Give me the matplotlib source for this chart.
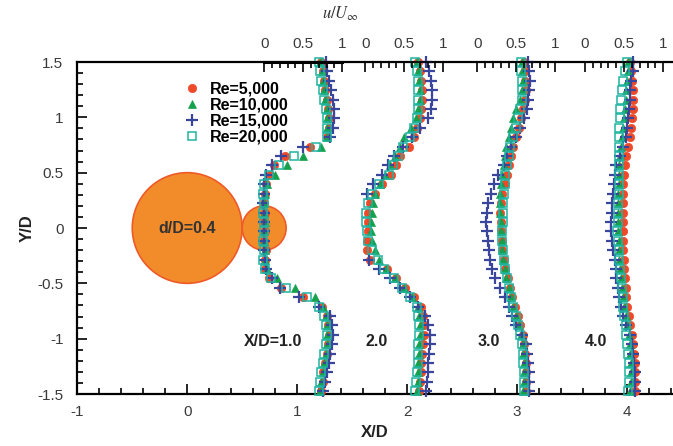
import numpy as np
import matplotlib.pyplot as plt
from matplotlib.patches import Circle

plt.rcParams['font.family'] = ['Liberation Sans', 'DejaVu Sans']
plt.rcParams['mathtext.fontset'] = 'stix'

# measurement heights Y/D (same for every traverse)
y_pos = [1.50, 1.415, 1.33, 1.245, 1.16, 1.075, 0.99, 0.905, 0.82, 0.735, 0.65, 0.565,
         0.48, 0.395, 0.31, 0.225, 0.14, 0.055, -0.03, -0.115, -0.20, -0.285, -0.37, -0.455,
         -0.54, -0.625, -0.71, -0.795, -0.88, -0.965, -1.05, -1.135, -1.22, -1.305, -1.39, -1.475]

stations = ['X/D=1.0', '2.0', '3.0', '4.0']
u_zero = [0.70, 1.62, 2.64, 3.62]   # where u/U=0 sits on the X/D axis for each traverse
u_scale = 0.71                      # X/D length of one unit of u/U

nan = np.nan

# u/U profiles, Re = 5,000
re5k_x1 = [0.73, 0.75, 0.77, 0.78, 0.80, 0.82, 0.83, 0.83, 0.81, 0.59, 0.27, 0.12, 0.07, 0.02, 0.01, 0.00, 0.01, 0.00,
           0.01, 0.00, 0.02, 0.01, 0.01, 0.06, 0.22, 0.50, 0.74, 0.80, 0.82, 0.83, 0.82, 0.80, 0.78, 0.76, 0.75, 0.73]
re5k_x2 = [0.68, 0.70, 0.72, 0.73, 0.73, 0.72, 0.70, 0.66, 0.62, 0.56, 0.45, 0.39, 0.33, 0.22, 0.13, 0.06, 0.04, 0.03,
           0.03, 0.02, 0.02, 0.06, 0.28, 0.40, 0.51, 0.63, 0.71, 0.74, 0.75, 0.75, 0.74, 0.73, 0.72, 0.71, 0.70, 0.69]
re5k_x3 = [0.60, 0.61, 0.61, 0.62, 0.61, 0.59, 0.56, 0.53, 0.49, 0.46, 0.43, 0.41, 0.38, 0.35, 0.32, 0.30, 0.29, 0.30,
           0.30, 0.31, 0.32, 0.34, 0.36, 0.39, 0.42, 0.45, 0.48, 0.52, 0.55, 0.58, 0.60, 0.61, 0.62, 0.62, 0.62, 0.62]
re5k_x4 = [0.58, 0.59, 0.60, 0.61, 0.61, 0.61, 0.60, 0.59, 0.57, 0.55, 0.53, 0.51, 0.50, 0.49, 0.48, 0.48, 0.48, 0.48,
           0.48, 0.49, 0.49, 0.50, 0.50, 0.51, 0.52, 0.53, 0.54, 0.56, 0.58, 0.60, 0.62, 0.63, 0.64, 0.64, 0.64, 0.64]

# Re = 10,000
re10k_x1 = [0.72, 0.74, 0.75, 0.77, 0.78, 0.80, 0.81, 0.81, 0.80, 0.73, 0.50, 0.29, 0.14, 0.04, 0.01, 0.00, 0.00, 0.01,
            0.00, 0.00, 0.01, 0.01, 0.04, 0.16, 0.40, 0.65, 0.75, 0.79, 0.80, 0.81, 0.80, 0.79, 0.77, 0.75, 0.73, 0.72]
re10k_x2 = [0.66, 0.68, 0.69, 0.70, 0.70, 0.68, 0.65, 0.58, 0.50, 0.44, 0.38, 0.32, 0.25, 0.19, 0.13, 0.10, 0.09, 0.07,
            0.07, 0.08, 0.13, 0.18, 0.26, 0.38, 0.50, 0.60, 0.67, 0.69, 0.70, 0.70, 0.69, 0.69, 0.68, 0.67, 0.67, 0.66]
re10k_x3 = [0.57, 0.57, 0.58, 0.57, 0.55, 0.49, 0.46, 0.43, 0.40, 0.37, 0.36, 0.34, 0.32, 0.30, 0.29, 0.29, 0.29, 0.30,
            0.30, 0.31, 0.32, 0.33, 0.35, 0.37, 0.40, 0.43, 0.46, 0.50, 0.53, 0.56, 0.58, 0.59, 0.60, 0.60, 0.60, 0.59]
re10k_x4 = [0.55, 0.55, 0.54, 0.53, 0.52, 0.51, 0.50, 0.49, 0.47, 0.46, 0.45, 0.44, 0.43, 0.43, 0.42, 0.42, 0.42, 0.42,
            0.42, 0.43, 0.43, 0.44, 0.45, 0.46, 0.47, 0.48, 0.50, 0.52, 0.54, 0.56, 0.57, 0.58, 0.59, 0.59, 0.59, 0.58]

# Re = 15,000
re15k_x1 = [0.79, 0.80, 0.83, 0.86, 0.88, 0.90, 0.90, 0.88, 0.84, 0.50, 0.21, 0.10, 0.03, 0.00, 0.00, -0.01, 0.00, 0.00,
            0.00, 0.00, 0.00, 0.01, 0.02, 0.10, 0.20, 0.45, 0.70, 0.84, 0.87, 0.88, 0.87, 0.85, 0.83, 0.80, 0.78, 0.76]
re15k_x2 = [0.78, 0.82, 0.84, 0.85, 0.85, 0.84, 0.80, 0.70, 0.60, 0.49, 0.37, 0.29, 0.21, 0.10, 0.02, nan, nan, nan,
            nan, nan, nan, 0.05, 0.18, 0.32, 0.45, 0.57, 0.68, 0.77, 0.81, 0.83, 0.83, 0.82, 0.81, 0.80, 0.79, 0.78]
re15k_x3 = [0.65, 0.66, 0.67, 0.66, 0.65, 0.63, 0.60, 0.55, 0.49, 0.43, 0.38, 0.34, 0.27, 0.21, 0.17, 0.14, 0.12, 0.11,
            0.12, 0.13, 0.15, 0.16, 0.19, 0.23, 0.29, 0.35, 0.40, 0.45, 0.50, 0.57, 0.62, 0.64, 0.65, 0.66, 0.66, 0.66]
re15k_x4 = [0.62, 0.61, 0.59, 0.58, 0.57, 0.56, 0.55, 0.54, 0.52, 0.49, 0.45, 0.40, 0.38, 0.37, 0.36, 0.35, 0.34, 0.33,
            0.33, 0.34, 0.36, 0.38, 0.39, 0.40, 0.42, 0.44, 0.46, 0.49, 0.53, 0.57, 0.60, 0.62, 0.63, 0.64, 0.64, 0.64]

# Re = 20,000
re20k_x1 = [0.70, 0.72, 0.73, 0.75, 0.77, 0.79, 0.81, 0.81, 0.80, 0.67, 0.38, 0.19, 0.06, 0.00, -0.01, 0.00, -0.01, 0.00,
            0.00, -0.01, 0.00, -0.01, 0.01, 0.09, 0.28, 0.55, 0.70, 0.77, 0.79, 0.80, 0.79, 0.77, 0.75, 0.73, 0.71, 0.70]
re20k_x2 = [0.64, 0.66, 0.67, 0.68, 0.68, 0.67, 0.66, 0.63, 0.57, 0.49, 0.42, 0.36, 0.30, 0.18, 0.09, 0.04, 0.01, 0.01,
            0.02, 0.04, 0.09, 0.16, 0.24, 0.37, 0.47, 0.57, 0.66, 0.68, 0.69, 0.69, 0.68, 0.68, 0.67, 0.66, 0.65, 0.64]
re20k_x3 = [0.56, 0.56, 0.57, 0.57, 0.57, 0.55, 0.52, 0.49, 0.46, 0.42, 0.40, 0.38, 0.36, 0.35, 0.34, 0.33, 0.33, 0.33,
            0.32, 0.32, 0.33, 0.34, 0.36, 0.38, 0.41, 0.43, 0.46, 0.49, 0.52, 0.55, 0.57, 0.58, 0.59, 0.60, 0.60, 0.60]
re20k_x4 = [0.54, 0.51, 0.49, 0.47, 0.46, 0.45, 0.45, 0.44, 0.44, 0.44, 0.43, 0.43, 0.43, 0.43, 0.43, 0.42, 0.42, 0.42,
            0.41, 0.42, 0.43, 0.44, 0.45, 0.46, 0.47, 0.48, 0.49, 0.50, 0.52, 0.53, 0.54, 0.55, 0.56, 0.56, 0.56, 0.55]

series = [
    ('Re=5,000', [re5k_x1, re5k_x2, re5k_x3, re5k_x4],
     dict(marker='o', ms=6, mfc='#ee4a2a', mec='#ee4a2a', mew=0.5)),
    ('Re=10,000', [re10k_x1, re10k_x2, re10k_x3, re10k_x4],
     dict(marker='^', ms=5.5, mfc='#15a04c', mec='#15a04c', mew=0.5)),
    ('Re=15,000', [re15k_x1, re15k_x2, re15k_x3, re15k_x4],
     dict(marker='+', ms=8, mec='#3a459c', mew=1.6)),
    ('Re=20,000', [re20k_x1, re20k_x2, re20k_x3, re20k_x4],
     dict(marker='s', ms=5.5, mfc='none', mec='#1fb4a2', mew=1.1)),
]

fig = plt.figure(figsize=(6.73, 4.46), dpi=100)
ax = fig.add_axes([77.3 / 673, 52 / 446, 595.7 / 673, 332 / 446])
ax.set_xlim(-1, 4.42)
ax.set_ylim(-1.5, 1.5)

# cylinders
ax.add_patch(Circle((0, 0), 0.5, fc='#f28b2a', ec='#ee5a28', lw=1.2, zorder=1))
ax.add_patch(Circle((0.7, 0), 0.2, fc='#f28b2a', ec='#ee5a28', lw=1.2, zorder=1))
ax.text(0, 0, 'd/D=0.4', ha='center', va='center', fontsize=11.5, fontweight='bold', color='#333333')

for label, profiles, style in series:
    for k, u in enumerate(profiles):
        x = u_zero[k] + u_scale * np.array(u)
        ax.plot(x, y_pos, ls='none', clip_on=False, zorder=3,
                label=label if k == 0 else None, **style)

for k, name in enumerate(stations):
    xt = u_zero[k] + 0.08 if k == 0 else u_zero[k] + 0.1
    ax.text(xt, -1.03, name, ha='center', va='center', fontsize=11.5,
            fontweight='bold', color='#222222')

ax.legend(loc='upper left', bbox_to_anchor=(0.179, 0.94), frameon=False,
          handlelength=1.0, handletextpad=0.6, labelspacing=0.05,
          borderpad=0, borderaxespad=0, prop={'weight': 'bold', 'size': 11.5})

# frame and ticks
for side in ['left', 'bottom', 'top']:
    ax.spines[side].set_linewidth(1.6)
ax.spines['right'].set_visible(False)

ax.set_xticks([-1, 0, 1, 2, 3, 4])
ax.set_xticklabels(['-1', '0', '1', '2', '3', '4'])
ax.set_xticks(np.arange(-1, 4.41, 0.2), minor=True)
ax.set_yticks([-1.5, -1, -0.5, 0, 0.5, 1, 1.5])
ax.set_yticklabels(['-1.5', '-1', '-0.5', '0', '0.5', '1', '1.5'])
ax.set_yticks(np.arange(-1.5, 1.51, 0.1), minor=True)
ax.tick_params(which='both', direction='in', top=False, right=False,
               labelsize=11, labelcolor='#3a3a3a', width=1.2)
ax.tick_params(which='major', length=7)
ax.tick_params(which='minor', length=4)
ax.tick_params(axis='x', pad=8)
ax.tick_params(axis='y', pad=10)
ax.set_xlabel('X/D', fontsize=12, fontweight='bold', color='#222222', labelpad=4)
ax.set_ylabel('Y/D', fontsize=12, fontweight='bold', color='#222222', labelpad=2)

# local u/U scales along the top edge
top = ax.twiny()
top.set_xlim(ax.get_xlim())
major_u = [0, 0.5, 1]
minor_u = np.arange(0, 1.01, 0.1)
top.set_xticks([z + u_scale * m for z in u_zero for m in major_u])
top.set_xticklabels(['0', '0.5', '1'] * len(u_zero))
top.set_xticks([z + u_scale * m for z in u_zero for m in minor_u], minor=True)
top.tick_params(which='both', direction='in', labelsize=11, labelcolor='#3a3a3a', width=1.2, pad=8)
top.tick_params(which='major', length=7)
top.tick_params(which='minor', length=4)
for side in ['left', 'right', 'bottom']:
    top.spines[side].set_visible(False)
top.spines['top'].set_linewidth(1.2)
top.plot([u_zero[0], u_zero[0] + u_scale], [1.5, 1.5], color='black', lw=2.2, clip_on=False)

fig.text(340 / 673, 1 - 14 / 446, r'$u/U_\infty$', ha='center', va='center', fontsize=12, color='#333333')

fig.savefig('out.png', dpi=100)
